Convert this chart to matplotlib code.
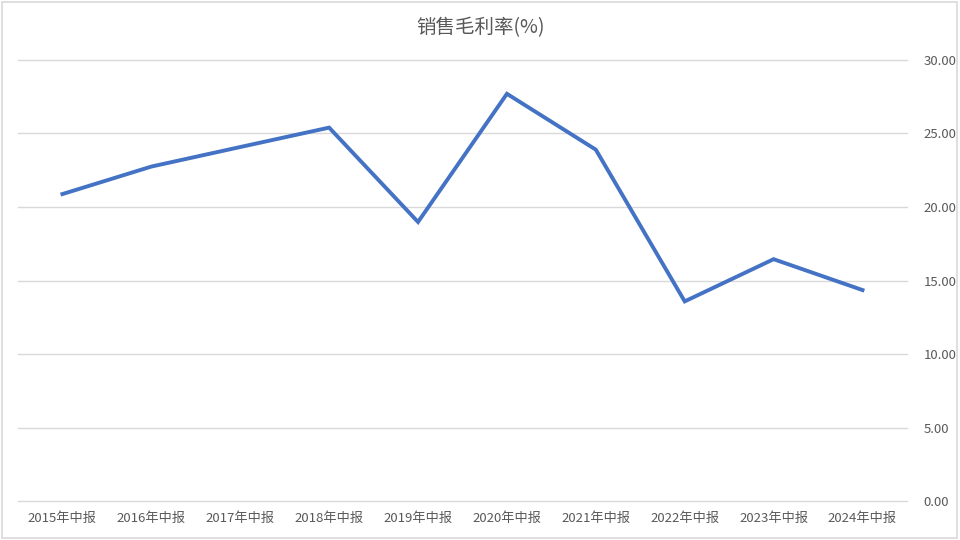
import numpy as np
import matplotlib.pyplot as plt

plt.rcParams['font.family'] = ['Noto Sans CJK SC', 'DejaVu Sans']

periods = ['2015年中报', '2016年中报', '2017年中报', '2018年中报', '2019年中报',
           '2020年中报', '2021年中报', '2022年中报', '2023年中报', '2024年中报']
gross_margin = [20.88, 22.75, 24.08, 25.40, 18.98, 27.70, 23.90, 13.58, 16.45, 14.35]
y_ticks = [0, 5, 10, 15, 20, 25, 30]

fig = plt.figure(figsize=(9.6, 5.4), dpi=100)
fig.patch.set_facecolor('white')
# light frame around the whole chart
fig.add_artist(plt.Rectangle((0.002, 0.003), 0.995, 0.994, transform=fig.transFigure,
                             fill=False, edgecolor='#d9d9d9', linewidth=1.2))

ax = fig.add_axes([0.01875, 0.0722, 0.926, 0.8167])
x = np.arange(len(periods))
ax.plot(x, gross_margin, color='#4472C4', linewidth=2.8, solid_joinstyle='miter')

ax.set_xlim(-0.5, len(periods) - 0.5)
ax.set_ylim(0, 30)
ax.set_yticks(y_ticks)
ax.set_yticklabels(['%.2f' % v for v in y_ticks])
ax.yaxis.tick_right()
ax.set_xticks(x)
ax.set_xticklabels(periods)
ax.tick_params(axis='both', length=0, labelsize=9.5, colors='#595959')
ax.tick_params(axis='y', pad=12)
ax.tick_params(axis='x', pad=8)
ax.grid(axis='y', color='#d9d9d9', linewidth=1)
for gl in ax.get_ygridlines():
    gl.set_clip_on(False)
ax.set_axisbelow(True)
for s in ax.spines.values():
    s.set_visible(False)

fig.text(0.5, 0.948, '销售毛利率(%)', ha='center', va='center', fontsize=14, color='#595959')

fig.savefig('out.png', dpi=100)
